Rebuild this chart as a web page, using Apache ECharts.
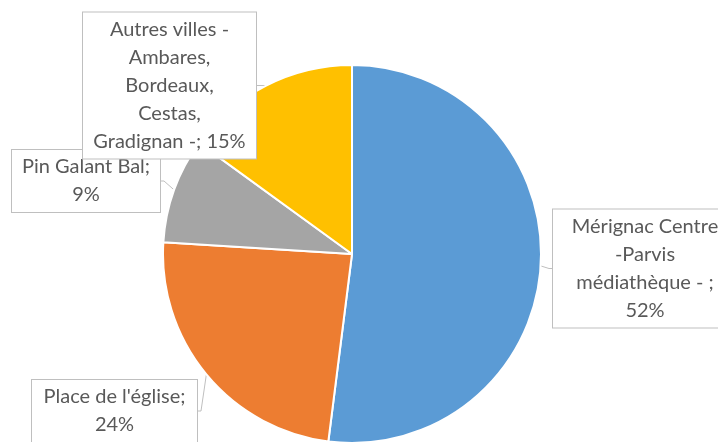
<!DOCTYPE html>
<html>
<head>
<meta charset="utf-8">
<script src="https://cdn.jsdelivr.net/npm/echarts@6/dist/echarts.min.js"></script>
<style>html,body{margin:0;padding:0;background:#fff;}#c{width:718px;height:442px;}</style>
</head>
<body>
<div id="c"></div>
<script>
const categories = ["Mérignac Centre\n-Parvis\nmédiathèque - ", "Place de l'église", "Pin Galant Bal", "Autres villes -\nAmbares,\nBordeaux,\nCestas,\nGradignan -"];
const separators = [";\n", ";\n", ";\n", "; "];
const values = [52, 24, 9, 15];
const colors = ["#5B9BD5", "#ED7D31", "#A5A5A5", "#FFC000"];
// label box centres (layout only)
const labelCenters = [[645, 268.5], [114.5, 411], [86, 181], [169.5, 85.5]];
const labelWidths = [174, 155, 138, 163];

const chart = echarts.init(document.getElementById('c'));
chart.setOption({
  animation: false,
  series: [{
    type: 'pie',
    center: [352, 254],
    radius: 189,
    startAngle: 90,
    clockwise: true,
    avoidLabelOverlap: false,
    itemStyle: { borderColor: '#fff', borderWidth: 2 },
    emphasis: { disabled: true },
    label: {
      show: true,
      position: 'outside',
      formatter: p => p.name + separators[p.dataIndex] + p.value + '%',
      fontFamily: 'Lato, "Liberation Sans", sans-serif',
      fontSize: 20,
      lineHeight: 28,
      color: '#595959',
      align: 'center',
      backgroundColor: '#fff',
      borderColor: '#BFBFBF',
      borderWidth: 1,
      padding: [4, 5, 2, 5]
    },
    labelLine: { show: true, length: 3, length2: 3, lineStyle: { color: '#BFBFBF', width: 1 } },
    labelLayout: function (params) {
      const c = labelCenters[params.dataIndex];
      return { x: c[0], y: c[1], align: 'center', verticalAlign: 'middle' };
    },
    data: categories.map((n, i) => ({
      name: n, value: values[i], itemStyle: { color: colors[i] },
      label: { width: labelWidths[i] }
    }))
  }]
});
</script>
</body>
</html>
